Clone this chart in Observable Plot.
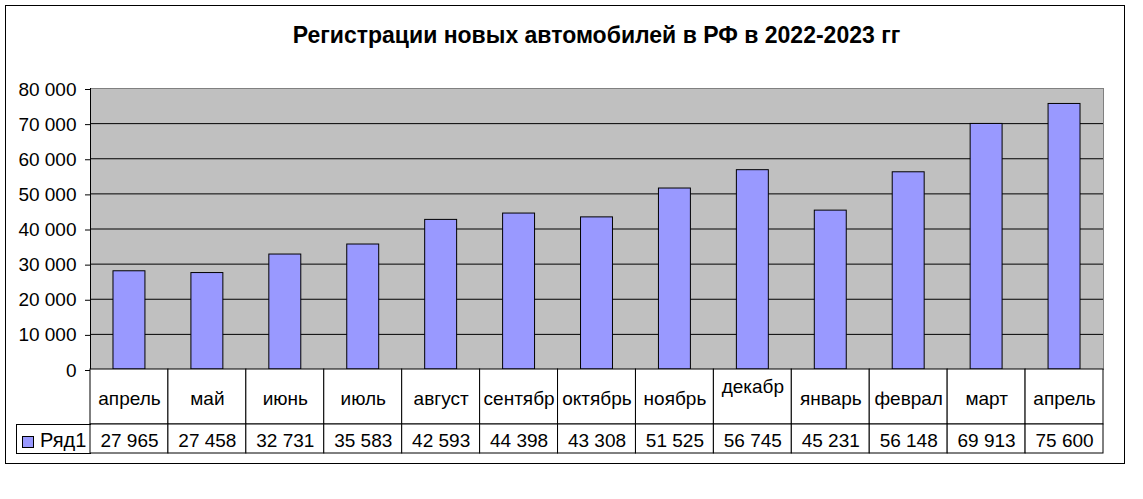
<!DOCTYPE html>
<html>
<head>
<meta charset="utf-8">
<script src="https://cdn.jsdelivr.net/npm/d3@7"></script>
<script src="https://cdn.jsdelivr.net/npm/@observablehq/plot@0.6"></script>
<style>
  html, body { margin: 0; padding: 0; background: #fff; }
  #wrap { position: relative; width: 1143px; height: 499px; font-family: "Liberation Sans", Arial, sans-serif; }
  #wrap > * { position: absolute; }
  #border { left: 5px; top: 5px; width: 1120px; height: 459px; box-sizing: border-box; border: 1px solid #000; }
  #title { left: 90px; width: 1013px; top: 21px; text-align: center; font-size: 23px; font-weight: bold; line-height: 28px; color: #000; white-space: nowrap; }
  #legend { left: 16px; top: 424px; width: 75px; height: 30px; box-sizing: border-box; border: 1px solid #000; border-right: none; font-size: 20px; line-height: 28px; }
  #legend .sw { position: absolute; left: 5px; top: 11px; width: 12px; height: 12px; box-sizing: border-box; border: 1px solid #000; background: #9999ff; }
  #legend .lb { position: absolute; left: 23px; top: 1px; }
</style>
</head>
<body>
<div id="wrap">
  <div id="border"></div>
  <div id="title">Регистрации новых автомобилей в РФ в 2022-2023 гг</div>
</div>
<script>
// ---- data ----
const months = ["апрель", "май", "июнь", "июль", "август", "сентябр", "октябрь", "ноябрь", "декабр\n", "январь", "феврал", "март", "апрель"];
const values = [27965, 27458, 32731, 35583, 42593, 44398, 43308, 51525, 56745, 45231, 56148, 69913, 75600];
const yTicks = [0, 10000, 20000, 30000, 40000, 50000, 60000, 70000, 80000];
const gridTicks = [10000, 20000, 30000, 40000, 50000, 60000, 70000];
const seriesName = "Ряд1";

const data = months.map((m, i) => ({i, month: m, value: values[i]}));
const idx = d3.range(months.length);
const fmt = d => d3.format(",")(d).replace(/,/g, " ");
const FONT = "'Liberation Sans', Arial, sans-serif";
const W = 1143, ML = 90, MR = 40, FS = 19;

const wrap = document.getElementById("wrap");

// ---- main bar chart ----
const main = Plot.plot({
  width: W, height: 369,
  marginTop: 88, marginBottom: 0, marginLeft: ML, marginRight: MR,
  style: {fontFamily: FONT, fontSize: FS + "px", color: "#000", background: "transparent", overflow: "visible"},
  x: {type: "band", domain: idx, paddingInner: 0.59, paddingOuter: 0.295, round: false, axis: null},
  y: {domain: [0, 80000], label: null},
  marks: [
    Plot.frame({fill: "#c0c0c0", stroke: "#808080"}),
    Plot.ruleY(gridTicks, {stroke: "#000", strokeWidth: 1}),
    Plot.barY(data, {x: "i", y: "value", fill: "#9999ff", stroke: "#000", strokeWidth: 1}),
    Plot.frame({anchor: "left", stroke: "#000"}),
    Plot.axisY({ticks: yTicks, tickFormat: fmt, tickSize: 5, tickPadding: 9, fontSize: FS, stroke: "#000", fill: "#000", label: null, dy: 1})
  ]
});
main.style.left = "0px"; main.style.top = "0px";
wrap.appendChild(main);

// ---- data table: category row ----
const catRow = Plot.plot({
  width: W, height: 56,
  marginTop: 0, marginBottom: 1, marginLeft: ML, marginRight: MR,
  style: {fontFamily: FONT, fontSize: FS + "px", color: "#000", background: "transparent", overflow: "visible"},
  x: {type: "band", domain: idx, padding: 0, round: false, axis: null},
  marks: [
    Plot.cell(data, {x: "i", fill: "#fff", stroke: "#000"}),
    Plot.text(data, {x: "i", text: "month", fontSize: FS, fill: "#000", lineHeight: 1.25, dy: 0})
  ]
});
catRow.style.left = "0px"; catRow.style.top = "369px";
wrap.appendChild(catRow);

// ---- data table: value row ----
const valRow = Plot.plot({
  width: W, height: 30,
  marginTop: 0, marginBottom: 1, marginLeft: ML, marginRight: MR,
  style: {fontFamily: FONT, fontSize: FS + "px", color: "#000", background: "transparent", overflow: "visible"},
  x: {type: "band", domain: idx, padding: 0, round: false, axis: null},
  marks: [
    Plot.cell(data, {x: "i", fill: "#fff", stroke: "#000"}),
    Plot.text(data, {x: "i", text: d => fmt(d.value), fontSize: FS, fill: "#000", dy: 2})
  ]
});
valRow.style.left = "0px"; valRow.style.top = "424px";
wrap.appendChild(valRow);

// ---- legend cell ----
const leg = document.createElement("div");
leg.id = "legend";
leg.innerHTML = `<span class="sw"></span><span class="lb">${seriesName}</span>`;
wrap.appendChild(leg);
</script>
</body>
</html>
